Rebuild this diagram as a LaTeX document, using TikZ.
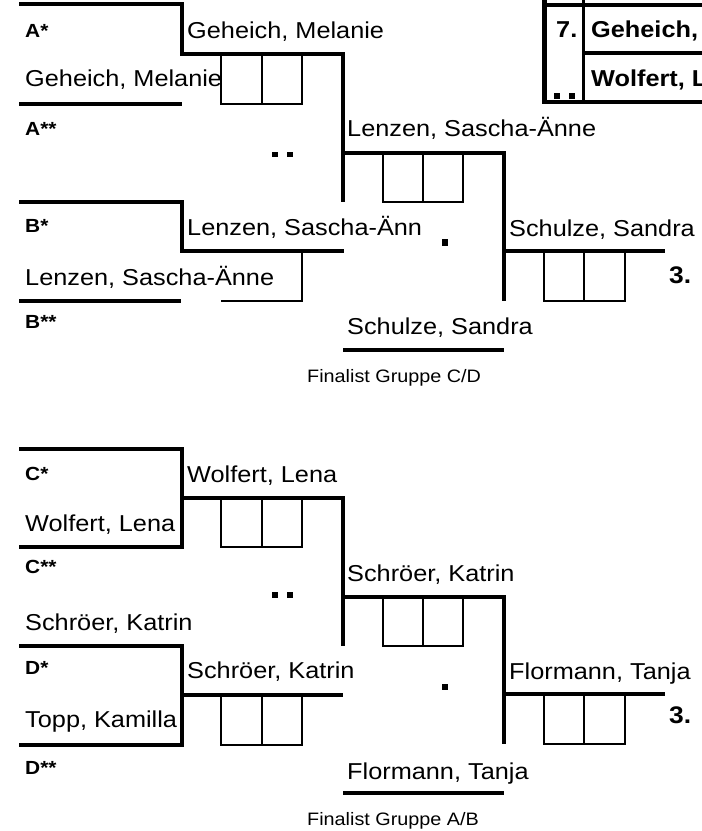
\documentclass[tikz,border=0pt]{standalone}
\usepackage{fontspec}
\setmainfont{Liberation Sans}
\newfontfamily\nfont[FakeStretch=1.1]{Liberation Sans}
\tikzset{
  plabel/.style={anchor=base west, inner sep=0pt, font=\nfont\fontsize{23}{25}\selectfont},
  glabel/.style={anchor=base west, inner sep=0pt, font=\nfont\bfseries\fontsize{19}{21}\selectfont},
  tlabel/.style={anchor=base west, inner sep=0pt, font=\nfont\bfseries\fontsize{23}{25}\selectfont},
  rlabel/.style={anchor=base west, inner sep=0pt, font=\nfont\bfseries\fontsize{24}{26}\selectfont},
  flabel/.style={anchor=base west, inner sep=0pt, font=\nfont\fontsize{18}{20}\selectfont},
  heavy/.style={line width=4.5pt, line join=miter},
  light/.style={line width=2pt},
}
\begin{document}
\begin{tikzpicture}[x=1pt,y=-1pt]
\useasboundingbox (0,0) rectangle (702,831);
\fill[white] (0,0) rectangle (702,831);

% ---------- upper half (groups A/B) ----------
\draw[heavy] (19,4) -- (182,4) -- (182,54) -- (343,54) -- (343,202);
\draw[heavy] (19,104) -- (182,104);
\draw[light] (221,54) rectangle (302,104);
\draw[light] (262,54) -- (262,104);
\fill (272,152) rectangle (278,157);
\fill (287,152) rectangle (293,157);
\draw[heavy] (19,202) -- (182,202) -- (182,251) -- (344,251);
\draw[light] (221,301) -- (302,301) -- (302,251);
\draw[heavy] (19,301) -- (181,301);
\draw[heavy] (343,153) -- (504,153) -- (504,301);
\draw[light] (383,153) rectangle (463,202);
\draw[light] (423,153) -- (423,202);
\draw[heavy] (504,251) -- (665,251);
\draw[light] (544,251) rectangle (625,301);
\draw[light] (584,251) -- (584,301);
\draw[heavy] (343,350) -- (504,350);
\fill (442,239) rectangle (448,246);

\node[glabel] (ua1) at (25,37) {A*};
\node[plabel] (uw1) at (187,38) {Geheich, Melanie};
\node[plabel] (ua2) at (25,86) {Geheich, Melanie};
\node[glabel] (ua3) at (25,135) {A**};
\node[plabel] (us1) at (347,136) {Lenzen, Sascha-Änne};
\node[glabel] (ub1) at (25,232) {B*};
\node[plabel] (uw2) at (187,235) {Lenzen, Sascha-Änn};
\node[plabel] (uf1) at (509,236) {Schulze, Sandra};
\node[plabel] (ub2) at (25,285) {Lenzen, Sascha-Änne};
\node[rlabel] (ur3) at (669,283) {3.};
\node[glabel] (ub3) at (25,328) {B**};
\node[plabel] (uf2) at (347,334) {Schulze, Sandra};
\node[flabel] (ufin) at (307,382) {Finalist Gruppe C/D};

% ---------- ranking table (top right) ----------
\draw[line width=5pt] (544.5,0) -- (544.5,102);
\draw[line width=3pt] (583,0) -- (583,102);
\draw[line width=4pt] (542,5) -- (702,5);
\draw[line width=4pt] (583,53) -- (702,53);
\draw[line width=4pt] (542,102) -- (702,102);
\fill (554,93) rectangle (560,99);
\fill (569,93) rectangle (575,99);
\node[tlabel] (t7) at (556,37) {7.};
\node[tlabel] (t7a) at (591,37) {Geheich,};
\node[tlabel] (t7b) at (591,86) {Wolfert, L};

% ---------- lower half (groups C/D) ----------
\draw[heavy] (19,449) -- (182,449) -- (182,547) -- (19,547);
\draw[heavy] (182,498) -- (343,498) -- (343,646);
\draw[light] (221,498) rectangle (302,547);
\draw[light] (262,498) -- (262,547);
\fill (272,592) rectangle (278,598);
\fill (287,592) rectangle (293,598);
\draw[heavy] (19,646) -- (182,646) -- (182,745) -- (19,745);
\draw[heavy] (182,695) -- (343,695);
\draw[light] (221,695) rectangle (302,745);
\draw[light] (262,695) -- (262,745);
\draw[heavy] (343,597) -- (504,597) -- (504,744);
\draw[light] (383,597) rectangle (463,646);
\draw[light] (423,597) -- (423,646);
\draw[heavy] (504,694) -- (665,694);
\draw[light] (544,694) rectangle (625,744);
\draw[light] (584,694) -- (584,744);
\draw[heavy] (343,793) -- (504,793);
\fill (442,684) rectangle (448,690);

\node[glabel] (lc1) at (25,480) {C*};
\node[plabel] (lw1) at (187,482) {Wolfert, Lena};
\node[plabel] (lc2) at (25,531) {Wolfert, Lena};
\node[glabel] (lc3) at (25,573) {C**};
\node[plabel] (ls1) at (347,581) {Schröer, Katrin};
\node[plabel] (lc4) at (25,630) {Schröer, Katrin};
\node[glabel] (ld1) at (25,674) {D*};
\node[plabel] (lw2) at (187,678) {Schröer, Katrin};
\node[plabel] (lf1) at (509,679) {Flormann, Tanja};
\node[plabel] (ld2) at (25,727) {Topp, Kamilla};
\node[rlabel] (lr3) at (669,723) {3.};
\node[glabel] (ld3) at (25,774) {D**};
\node[plabel] (lf2) at (347,779) {Flormann, Tanja};
\node[flabel] (lfin) at (307,825) {Finalist Gruppe A/B};
\end{tikzpicture}
\end{document}
